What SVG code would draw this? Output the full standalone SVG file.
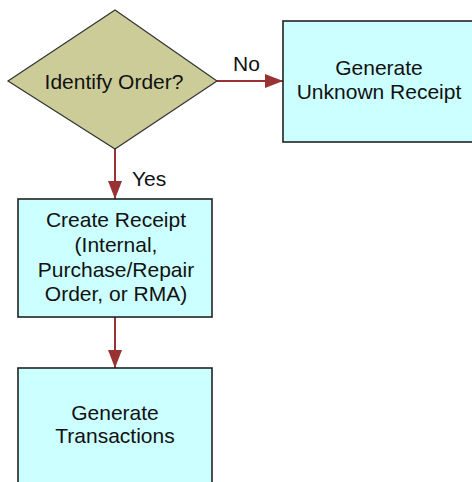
<svg xmlns="http://www.w3.org/2000/svg" width="472" height="482" viewBox="0 0 472 482">
<style>
.box{fill:#ccffff;stroke:#222;stroke-width:1.6}
.dia{fill:#cccc99;stroke:#333;stroke-width:1.2}
.t{font-family:"Liberation Sans",Arial,sans-serif;font-size:21px;fill:#111;text-anchor:middle}
.lbl{font-family:"Liberation Sans",Arial,sans-serif;font-size:21px;fill:#111}
.c{stroke:#993333;stroke-width:2;fill:none}
</style>
<defs>
<marker id="ah" markerUnits="userSpaceOnUse" markerWidth="18" markerHeight="16" refX="18" refY="8" orient="auto">
<path d="M0,1 L18,8 L0,15 Z" fill="#993333"/>
</marker>
</defs>
<rect width="472" height="482" fill="#ffffff"/>
<g id="connectors">
<line class="c" x1="217" y1="81" x2="283" y2="81" marker-end="url(#ah)"/>
<line class="c" x1="115" y1="149" x2="115" y2="199" marker-end="url(#ah)"/>
<line class="c" x1="115" y1="317" x2="115" y2="368" marker-end="url(#ah)"/>
<text class="lbl" x="233" y="71">No</text>
<text class="lbl" x="132" y="186">Yes</text>
</g>
<g id="identify-order">
<polygon class="dia" points="115,10 217,81 115,149 8,81"/>
<text class="t" x="114" y="89">Identify Order?</text>
</g>
<g id="unknown-receipt">
<rect class="box" x="283" y="21" width="190" height="121"/>
<text class="t" x="379" y="75">Generate</text>
<text class="t" x="379" y="99">Unknown Receipt</text>
</g>
<g id="create-receipt">
<rect class="box" x="18" y="199" width="194" height="118"/>
<text class="t" x="116" y="227">Create Receipt</text>
<text class="t" x="116" y="252">(Internal,</text>
<text class="t" x="116" y="277">Purchase/Repair</text>
<text class="t" x="116" y="301">Order, or RMA)</text>
</g>
<g id="generate-transactions">
<rect class="box" x="18" y="368" width="194" height="130"/>
<text class="t" x="115" y="420">Generate</text>
<text class="t" x="115" y="443">Transactions</text>
</g>
</svg>
